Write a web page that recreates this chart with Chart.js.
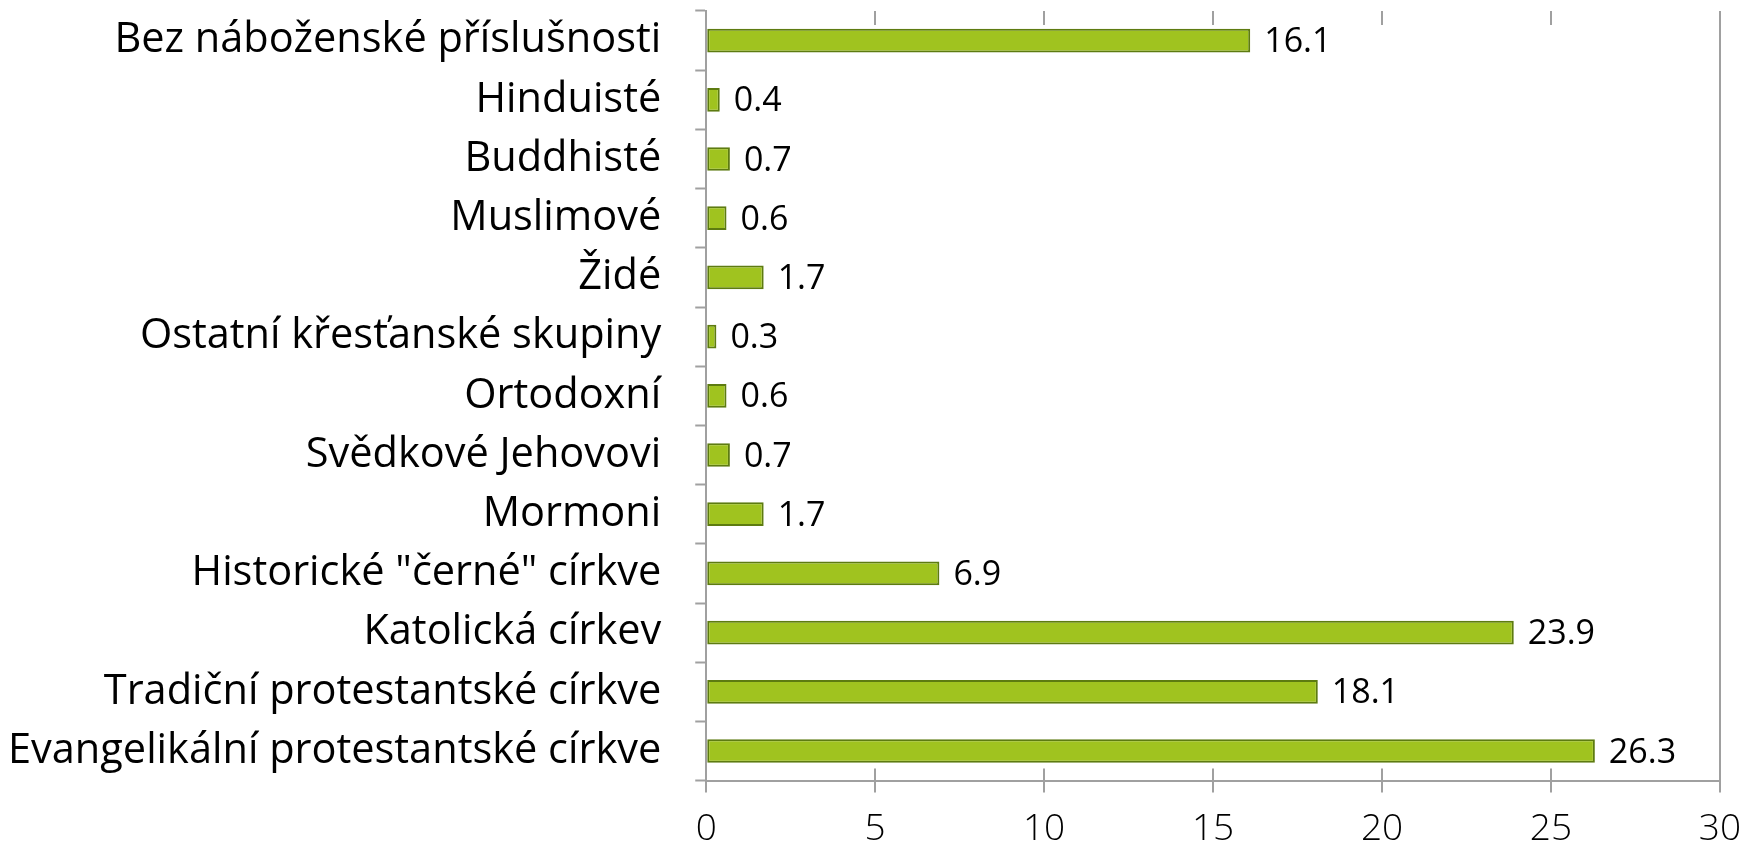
<!DOCTYPE html>
<html>
<head>
<meta charset="utf-8">
<script src="https://cdn.jsdelivr.net/npm/chart.js@4.4.1/dist/chart.umd.min.js"></script>
<style>
html,body{margin:0;padding:0;background:#fff;}
#wrap{width:1756px;height:849px;position:relative;}
</style>
</head>
<body>
<div id="wrap"><canvas id="c" width="1756" height="849"></canvas></div>
<script>
const categories = [
  "Bez náboženské příslušnosti",
  "Hinduisté",
  "Buddhisté",
  "Muslimové",
  "Židé",
  "Ostatní křesťanské skupiny",
  "Ortodoxní",
  "Svědkové Jehovovi",
  "Mormoni",
  "Historické \"černé\" církve",
  "Katolická církev",
  "Tradiční protestantské církve",
  "Evangelikální protestantské církve"
];
const values = [16.1, 0.4, 0.7, 0.6, 1.7, 0.3, 0.6, 0.7, 1.7, 6.9, 23.9, 18.1, 26.3];
const xTicks = [0, 5, 10, 15, 20, 25, 30];

const AXIS_GRAY = '#a0a0a0';

const valueLabels = {
  id: 'valueLabels',
  afterDatasetsDraw(chart) {
    const ctx = chart.ctx;
    const meta = chart.getDatasetMeta(0);
    ctx.save();
    ctx.font = '34px "Open Sans"';
    ctx.fillStyle = '#000';
    ctx.textBaseline = 'middle';
    ctx.textAlign = 'left';
    meta.data.forEach((bar, i) => {
      ctx.fillText(values[i].toFixed(1), bar.x + 14, bar.y + 2);
    });
    ctx.restore();
  }
};

function barFill(c) {
  const chart = c.chart;
  const el = c.element;
  if (!chart.chartArea || !el) return '#a0c31f';
  const h = el.height;
  const y = el.y;
  if (!Number.isFinite(h) || !Number.isFinite(y) || h <= 0) return '#a0c31f';
  const g = chart.ctx.createLinearGradient(0, y - h / 2, 0, y + h / 2);
  g.addColorStop(0, '#b4d43a');
  g.addColorStop(0.25, '#a3c620');
  g.addColorStop(1, '#97ba18');
  return g;
}

function build() {
  new Chart(document.getElementById('c'), {
    type: 'bar',
    data: {
      labels: categories,
      datasets: [{
        data: values,
        backgroundColor: barFill,
        borderColor: '#5d7b10',
        borderWidth: 2,
        borderSkipped: false,
        categoryPercentage: 1,
        barPercentage: 0.40
      }]
    },
    options: {
      indexAxis: 'y',
      responsive: false,
      animation: false,
      layout: { padding: { top: 11, right: 33, left: -26, bottom: -18 } },
      plugins: { legend: { display: false }, tooltip: { enabled: false } },
      scales: {
        x: {
          min: 0, max: 30,
          afterBuildTicks(axis) { axis.ticks = xTicks.map(v => ({ value: v })); },
          border: {
            display: true, color: AXIS_GRAY, width: 2,
            dash(c) {
              if (!c.tick) return [];
              const ca = c.chart.chartArea;
              if (!ca) return [];
              const h = ca.bottom - ca.top;
              if (c.tick.value === 30 || c.tick.value === 0) return [];
              return [14, h - 26, 12];
            }
          },
          grid: {
            color(c) { return (c.tick && c.tick.value > 0) ? AXIS_GRAY : 'rgba(0,0,0,0)'; },
            lineWidth: 2,
            tickColor: AXIS_GRAY,
            tickWidth: 2,
            tickLength: 12,
            drawOnChartArea: true
          },
          ticks: {
            color: '#000',
            font: { family: '"Open Sans"', size: 37, weight: 300 },
            padding: 15
          }
        },
        y: {
          afterFit(axis) { axis.paddingTop = 0; axis.paddingBottom = 0; },
          border: { display: true, color: AXIS_GRAY, width: 2 },
          grid: {
            offset: true,
            drawOnChartArea: false,
            tickColor: AXIS_GRAY,
            tickWidth: 2,
            tickLength: 11
          },
          ticks: {
            color: '#000',
            font: { family: '"Open Sans"', size: 41.5 },
            padding: 34
          }
        }
      }
    },
    plugins: [valueLabels]
  });
}

Promise.all([
  document.fonts.load('41.5px "Open Sans"'),
  document.fonts.load('300 37px "Open Sans"'),
  document.fonts.load('34px "Open Sans"')
]).then(build, build);
</script>
</body>
</html>
